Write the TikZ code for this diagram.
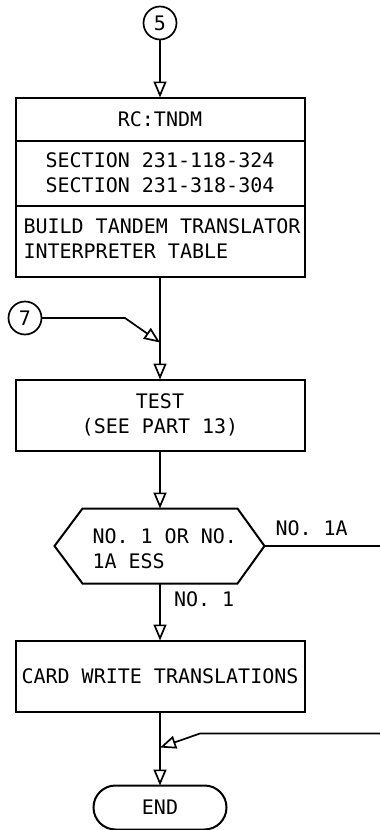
\documentclass[tikz,border=0pt]{standalone}
\usepackage{fontspec}
\setmonofont{DejaVu Sans Mono}
\usetikzlibrary{positioning,arrows.meta}

\begin{document}
\begin{tikzpicture}[
		x=1pt, y=1pt,
		line width=1.7pt,
		font=\ttfamily\fontsize{20}{25}\selectfont,
		flowbox/.style={
			draw,
			line width=2pt,
			minimum width=289pt,
			inner sep=0pt,
			outer sep=0pt,
			align=center
		},
		pagelink/.style={circle, draw, minimum size=33pt, inner sep=0pt, outer sep=0pt},
		lbl/.style={inner sep=0pt, outer sep=0pt},
		arrow/.style={-{Triangle[open, length=16pt, width=13pt]}}
	]
		\useasboundingbox (0,0) rectangle (380,-830);

		\node[pagelink] (link5) at (160,-23) {5};
		\node[flowbox, minimum height=43pt, below=58pt of link5] (rc) {RC:TNDM};
		\node[flowbox, minimum height=65pt, below=0pt of rc] (sections) {
			SECTION 231-118-324\\SECTION 231-318-304
		};
		\node[flowbox, minimum height=71pt, below=0pt of sections] (build) {};
		\node[lbl, align=left, anchor=north west] (buildtext) at ([shift={(8pt,-13pt)}]build.north west) {
			BUILD TANDEM TRANSLATOR\\INTERPRETER TABLE
		};
		\coordinate[below=66pt of build.south] (join7);
		\node[pagelink] (link7) at (25,-318) {7};
		\node[flowbox, minimum height=71pt, below=103pt of build] (test) {
			TEST\\(SEE PART 13)
		};
		\node[lbl, minimum width=155pt, minimum height=75pt, below=58pt of test] (decision) {};
		\node[lbl, align=left, anchor=north west] (decisiontext) at ([shift={(10pt,-20pt)}]decision.north west) {
			NO. 1 OR NO.\\1A ESS
		};
		\coordinate (decright) at ([xshift=27pt]decision.east);
		\coordinate (decleft) at ([xshift=-28pt]decision.west);
		\coordinate (exit1A) at ([xshift=115pt]decright);
		\node[flowbox, minimum height=71pt, below=57pt of decision] (card) {CARD WRITE TRANSLATIONS};
		\coordinate[below=36pt of card.south] (merge);
		\coordinate (return1A) at ([shift={(220pt,14pt)}]merge);
		\node[flowbox, minimum width=133pt, minimum height=44pt, rounded corners=22pt, below=74pt of card] (end) {END};

		\draw[line width=2pt] (decision.north west) -- (decision.north east) -- (decright)
			-- (decision.south east) -- (decision.south west) -- (decleft) -- cycle;

		\draw[arrow] (link5) -- (rc);
		\draw (build) -- (join7);
		\draw[arrow] (link7) -- ([xshift=-35pt]join7 |- link7) -- (join7);
		\draw[arrow] (join7) -- (test);
		\draw[arrow] (test) -- (decision);
		\draw (decright) -- (exit1A) node[lbl, pos=0, anchor=south west, xshift=11pt, yshift=10pt] {NO. 1A};
		\draw[arrow] (decision) -- (card) node[lbl, pos=0, anchor=north west, xshift=14pt, yshift=-8pt] {NO. 1};
		\draw (card) -- (merge);
		\draw[arrow] (return1A) -- ([shift={(40pt,14pt)}]merge) -- (merge);
		\draw[arrow] (merge) -- (end);
	\end{tikzpicture}
\end{document}
